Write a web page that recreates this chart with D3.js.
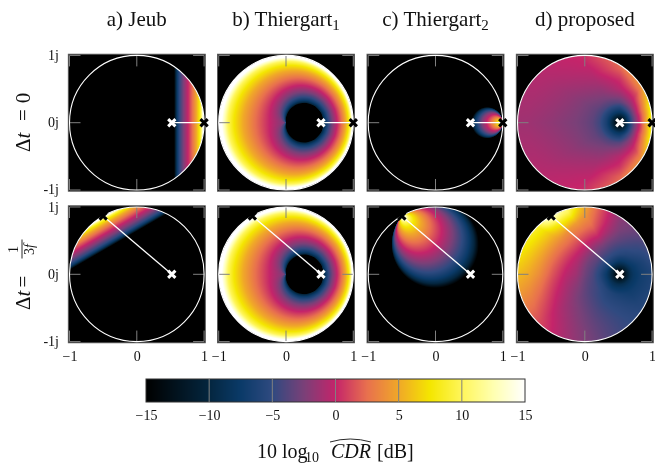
<!DOCTYPE html>
<html><head><meta charset="utf-8">
<script src="https://cdn.jsdelivr.net/npm/d3@7"></script>
<style>
html,body{margin:0;padding:0;background:#fff;}
#wrap{position:relative;width:655px;height:463px;overflow:hidden;}
canvas,svg{position:absolute;left:0;top:0;}
text{font-family:"Liberation Serif","Times New Roman",serif;fill:#111;}
</style></head><body><div id="wrap"></div>
<script>
// ---------- values ----------
const columnTitles = ["a) Jeub", "b) Thiergart", "c) Thiergart", "d) proposed"];
const columnSubs = ["", "1", "2", ""];
const axisTicks = [-1, 0, 1];
const yTickLabels = ["-1j", "0j", "1j"];
const barTicks = [-15, -10, -5, 0, 5, 10, 15];

// positions of the two markers on the complex plane
const noisePoint = [0.52, 0];
const sourcePoints = [[1, 0], [-0.5, 0.866]];

// colour bar, dB -> colour
const colorLevels = [-15, -10, -7.5, -5, -2.5, 0, 2.5, 5, 7.5, 10, 12.5, 15];
const colorStops = ["#000000", "#04263f", "#0a3a68", "#2f4a80", "#7a4078", "#c4246a",
                    "#e8704e", "#f0a828", "#f4e600", "#fff65a", "#ffffb0", "#ffffff"];

// iso-dB levels used by contour tables of columns a, b, c
const isoLevels = [-15, -10, -7.5, -5, -2.5, 0, 2.5, 5, 7.5, 10, 15];
// column a: position of each level along the source direction
const jeubOffset = [0.555, 0.58, 0.60, 0.635, 0.693, 0.76, 0.827, 0.885, 0.928, 0.956, 0.985];
// column c: diameter of each nested circle, as a share of the noise-source segment
const thiergart2Share = [0.97, 0.91, 0.85, 0.76, 0.64, 0.50, 0.36, 0.24, 0.15, 0.09, 0.03];
// column b: radius of each level (columns) at each polar angle (rows)
const thiergart1Angles = [0, 15, 30, 45, 60, 75, 90, 105, 120, 135, 150, 165, 180];
const thiergart1Radii = [
  [.555,.564,.593,.635,.693,.760,.827,.885,.928,.956,.985],
  [.537,.547,.577,.622,.681,.751,.821,.880,.925,.955,.985],
  [.487,.500,.533,.582,.648,.725,.802,.868,.917,.950,.983],
  [.407,.425,.463,.520,.595,.684,.773,.848,.905,.943,.981],
  [.300,.327,.372,.438,.526,.630,.734,.822,.888,.933,.977],
  [.175,.214,.266,.343,.446,.568,.689,.792,.869,.921,.974],
  [.031,.091,.151,.240,.360,.500,.640,.760,.849,.909,.969],
  [0,0,.036,.138,.273,.433,.592,.728,.829,.897,.965],
  [0,0,0,.043,.193,.370,.547,.697,.810,.886,.961],
  [0,0,0,0,.124,.316,.508,.671,.793,.876,.958],
  [0,0,0,0,.072,.275,.478,.651,.781,.868,.955],
  [0,0,0,0,.038,.249,.459,.639,.773,.863,.954],
  [0,0,0,0,.027,.240,.453,.635,.771,.862,.954]
];
// column d: dB in polar cells around the noise marker
const proposedRadii = [0, .05, .1, .15, .2, .3, .4, .5, .65, .8, 1, 1.2, 1.35, 1.55];
const proposedAnglesTop = [0, 30, 60, 90, 120, 150, 180];   // mirrored below the axis
const proposedTop = [
  [-20,-13,-9,-6,-3.5,.5,5.5,11,15,15,15,15,15,15],
  [-20,-13,-9.5,-6.5,-4,0,3.5,7.5,12,15,15,15,15,15],
  [-20,-13.5,-10,-7.5,-5,-2,0,1.5,4.5,7,9,9,9,9],
  [-20,-13.5,-10.5,-8,-6.5,-3.5,-1.8,-.5,.5,2,3,3,3,3],
  [-20,-13.5,-10.5,-8,-6.5,-4,-2.7,-2,-1.2,-.6,0,.3,.3,.3],
  [-20,-13.5,-10.5,-8,-6.5,-4.3,-3.3,-2.8,-2.2,-1.7,-1.2,-.8,-.6,-.6],
  [-20,-13.5,-10.5,-8,-6.5,-4.5,-3.5,-3,-2.5,-2.2,-1.8,-1.5,-1.3,-1.2]
];
const proposedAnglesBottom = [0, 30, 60, 90, 120, 130, 140, 150, 180, 210, 240, 270, 300, 330, 360];
const proposedBottom = [
  [-20,-14,-11,-9,-8,-7,-6.5,-6,-6,-6,-6,-6,-6,-6],
  [-20,-14,-11,-9,-7.8,-6.8,-6,-5,-4.5,-4.5,-4.5,-4.5,-4.5,-4.5],
  [-20,-14,-11,-9,-7.5,-6,-5,-4.5,-3.5,-3,-3,-3,-3,-3],
  [-20,-14,-11,-9,-7.5,-5.5,-4.5,-3.5,-2.5,-2,-1.5,-1.5,-1.5,-1.5],
  [-20,-14,-11,-9,-7,-5,-3.8,-2.5,0,2,4,6.5,7,7],
  [-20,-14,-11,-9,-7,-5,-3.7,-2.5,-.2,1.8,4.5,10,13,13],
  [-20,-14,-11,-9,-7,-5,-3.6,-2.5,-.3,1.6,4,9,15,15],
  [-20,-14,-11,-9,-7,-5,-3.5,-2.6,-.5,1.3,3.6,6.2,8,10.5],
  [-20,-14,-11,-9,-7.5,-5.5,-4,-3,-1.2,-.3,1.6,3.8,5,6],
  [-20,-14,-11,-9,-7.5,-5.5,-4.5,-4,-3,-2,-.9,.3,1.2,1.8],
  [-20,-14,-11,-9,-8,-6,-5.4,-4.8,-4,-3.3,-2.5,-2,-2,-2],
  [-20,-14,-11,-9,-8,-6.5,-5.8,-5.3,-4.8,-4.5,-4.3,-4.3,-4.3,-4.3],
  [-20,-14,-11,-9,-8,-7,-6.5,-6,-5.5,-5.5,-5.5,-5.5,-5.5,-5.5],
  [-20,-14,-11,-9,-8,-7,-6.5,-6,-6,-6,-6,-6,-6,-6],
  [-20,-14,-11,-9,-8,-7,-6.5,-6,-6,-6,-6,-6,-6,-6]
];

// ---------- layout ----------
const W = 655, H = 463;
const colX = [68.3, 217.5, 367, 516.3], rowY = [54.2, 205.8], frameSize = 137;
const barBox = {x0: 146, x1: 525, y0: 379, y1: 402};
const GREY = "#808080";
const tickText = d3.format("d");

const wrap = d3.select("#wrap");
const canvas = wrap.append("canvas").attr("width", W).attr("height", H).node();
const ctx = canvas.getContext("2d");
ctx.fillStyle = "#fff"; ctx.fillRect(0, 0, W, H);
const svg = wrap.append("svg").attr("width", W).attr("height", H);

const color = d3.scaleLinear().domain(colorLevels).range(colorStops)
  .interpolate(d3.interpolateRgb).clamp(true);

// ---------- table look-ups ----------
function bracket(arr, v) {
  const i = Math.max(1, Math.min(arr.length - 1, d3.bisectRight(arr, v)));
  const t = (v - arr[i - 1]) / (arr[i] - arr[i - 1]);
  return [i - 1, i, Math.max(0, Math.min(1, t))];
}
function levelAt(positions, p) {      // positions ascending with level
  let i = -1;
  for (let k = 0; k < positions.length; k++) if (positions[k] <= p) i = k;
  if (i < 0) return -20;
  if (i === positions.length - 1) return 15;
  const span = positions[i + 1] - positions[i];
  return isoLevels[i] + (span > 0 ? (p - positions[i]) / span : 0) * (isoLevels[i + 1] - isoLevels[i]);
}
const bilinear = (rows, angs, rads, a, r) => {
  const [a0, a1, ta] = bracket(angs, a), [r0, r1, tr] = bracket(rads, r);
  const lo = rows[a0][r0] * (1 - tr) + rows[a0][r1] * tr;
  const hi = rows[a1][r0] * (1 - tr) + rows[a1][r1] * tr;
  return lo * (1 - ta) + hi * ta;
};
const fields = [
  (x, y, s) => levelAt(jeubOffset, x * s[0] + y * s[1]),
  (x, y) => {
    const r = Math.hypot(x, y), a = Math.abs(Math.atan2(y, x)) * 180 / Math.PI;
    const [a0, a1, t] = bracket(thiergart1Angles, a);
    return levelAt(thiergart1Radii[a0].map((v, k) => v * (1 - t) + thiergart1Radii[a1][k] * t), r);
  },
  (x, y, s) => {
    const dx = noisePoint[0] - s[0], dy = noisePoint[1] - s[1], vx = x - s[0], vy = y - s[1];
    const dot = vx * dx + vy * dy;
    if (dot <= 0) return -20;
    const share = (vx * vx + vy * vy) / dot;
    return levelAt(thiergart2Share.map(v => -v), -share);
  },
  (x, y, s, row) => {
    const dx = x - noisePoint[0], dy = y - noisePoint[1], r = Math.hypot(dx, dy);
    if (row === 0) return bilinear(proposedTop, proposedAnglesTop, proposedRadii,
      Math.abs(Math.atan2(dy, dx)) * 180 / Math.PI, r);
    let a = Math.atan2(dy, dx) * 180 / Math.PI; if (a < 0) a += 360;
    return bilinear(proposedBottom, proposedAnglesBottom, proposedRadii, a, r);
  }
];

// ---------- panels ----------
const MARGIN = 1.018;
rowY.forEach((y0, row) => colX.forEach((x0, col) => {
  const x = d3.scaleLinear().domain([-MARGIN, MARGIN]).range([x0, x0 + frameSize]);
  const y = d3.scaleLinear().domain([-MARGIN, MARGIN]).range([y0 + frameSize, y0]);
  const source = sourcePoints[row];

  ctx.fillStyle = "#000"; ctx.fillRect(x0, y0, frameSize, frameSize);
  const L = Math.floor(x0), T = Math.floor(y0), N = frameSize + 2;
  const off = document.createElement("canvas"); off.width = off.height = N;
  const octx = off.getContext("2d"), img = octx.createImageData(N, N);
  for (let j = 0; j < N; j++) for (let i = 0; i < N; i++) {
    const px = x.invert(L + i + .5), py = y.invert(T + j + .5);
    if (Math.hypot(px, py) > 1.03) continue;
    const c = d3.rgb(color(fields[col](px, py, source, row))), o = (j * N + i) * 4;
    img.data[o] = c.r; img.data[o + 1] = c.g; img.data[o + 2] = c.b; img.data[o + 3] = 255;
  }
  octx.putImageData(img, 0, 0);
  ctx.save();
  ctx.beginPath();
  ctx.arc(x(0), y(0), x(1) - x(0), 0, 2 * Math.PI);
  ctx.clip();
  ctx.drawImage(off, L, T);
  ctx.restore();

  const g = svg.append("g");
  g.append("rect").attr("x", x0).attr("y", y0).attr("width", frameSize).attr("height", frameSize)
    .attr("fill", "none").attr("stroke", "#555").attr("stroke-width", 0.9);
  const TICK = 11;
  axisTicks.forEach(t => {
    [[x(t), y(-1), x(t), y(-1) - TICK], [x(t), y(1), x(t), y(1) + TICK],
     [x(-1), y(t), x(-1) + TICK, y(t)], [x(1), y(t), x(1) - TICK, y(t)]].forEach(s =>
      g.append("line").attr("x1", s[0]).attr("y1", s[1]).attr("x2", s[2]).attr("y2", s[3])
        .attr("stroke", GREY).attr("stroke-width", 1));
  });
  g.append("circle").attr("cx", x(0)).attr("cy", y(0)).attr("r", x(1) - x(0))
    .attr("fill", "none").attr("stroke", "#fff").attr("stroke-width", 1.1);
  g.append("line").attr("x1", x(noisePoint[0])).attr("y1", y(noisePoint[1]))
    .attr("x2", x(source[0])).attr("y2", y(source[1]))
    .attr("stroke", "#fff").attr("stroke-width", 1.3);
  const marker = d3.symbol(d3.symbolTimes, 36)();
  g.append("path").attr("d", marker)
    .attr("transform", `translate(${x(source[0])},${y(source[1])})`)
    .attr("fill", "none").attr("stroke", "#000").attr("stroke-width", 3);
  g.append("path").attr("d", marker)
    .attr("transform", `translate(${x(noisePoint[0])},${y(noisePoint[1])})`)
    .attr("fill", "none").attr("stroke", "#fff").attr("stroke-width", 3);

  if (col === 0) {
    axisTicks.forEach((t, k) => svg.append("text").attr("x", 59).attr("y", y(t) + 4.5)
      .attr("text-anchor", "end").attr("font-size", 14).text(yTickLabels[k]));
  }
  if (row === 1) {
    const ax = svg.append("g").attr("transform", `translate(0,${y0 + frameSize + 5})`)
      .call(d3.axisBottom(x).tickValues(axisTicks).tickFormat(tickText).tickSize(0).tickPadding(3));
    ax.select(".domain").remove();
    ax.selectAll("text").attr("font-size", 14).attr("fill", "#111");
    ax.attr("font-family", null);
  }
}));

// ---------- column titles ----------
columnTitles.forEach((t, i) => {
  const txt = svg.append("text").attr("x", colX[i] + frameSize / 2).attr("y", 26)
    .attr("text-anchor", "middle").attr("font-size", 21).text(t);
  if (columnSubs[i]) txt.append("tspan").attr("dy", 4).attr("font-size", 15).text(columnSubs[i]);
});

// ---------- row labels ----------
const r0 = svg.append("g").attr("transform", `translate(30,122) rotate(-90)`).attr("font-size", 21);
const dt = (g, u) => {
  const t = g.append("text").attr("x", u).attr("y", 0);
  t.append("tspan").text("Δ");
  t.append("tspan").attr("font-style", "italic").text("t");
};
dt(r0, -30);
r0.append("text").attr("x", 7).attr("text-anchor", "middle").text("=");
r0.append("text").attr("x", 24).attr("text-anchor", "middle").text("0");
const r1 = svg.append("g").attr("transform", `translate(30,274.5) rotate(-90)`).attr("font-size", 21);
dt(r1, -35.5);
r1.append("text").attr("x", -7).attr("text-anchor", "middle").text("=");
r1.append("line").attr("x1", 16).attr("x2", 35).attr("y1", -8).attr("y2", -8)
  .attr("stroke", "#111").attr("stroke-width", 0.9);
r1.append("text").attr("x", 25).attr("y", -12).attr("text-anchor", "middle").attr("font-size", 14).text("1");
const den = r1.append("text").attr("x", 25).attr("y", 4).attr("text-anchor", "middle").attr("font-size", 14);
den.append("tspan").text("3");
den.append("tspan").attr("font-style", "italic").text("f");

// ---------- colour bar ----------
const barX = d3.scaleLinear().domain([-15, 15]).range([barBox.x0, barBox.x1]);
for (let px = barBox.x0; px < barBox.x1; px++) {
  ctx.fillStyle = color(barX.invert(px + .5));
  ctx.fillRect(px, barBox.y0, 1, barBox.y1 - barBox.y0);
}
svg.append("rect").attr("x", barBox.x0).attr("y", barBox.y0)
  .attr("width", barBox.x1 - barBox.x0).attr("height", barBox.y1 - barBox.y0)
  .attr("fill", "none").attr("stroke", "#333").attr("stroke-width", 1);
barTicks.slice(1, -1).forEach(t => svg.append("line")
  .attr("x1", barX(t)).attr("x2", barX(t)).attr("y1", barBox.y0).attr("y2", barBox.y1)
  .attr("stroke", GREY).attr("stroke-width", 1));
const barAxis = svg.append("g").attr("transform", `translate(0,${barBox.y1 + 5})`)
  .call(d3.axisBottom(barX).tickValues(barTicks).tickFormat(tickText).tickSize(0).tickPadding(3));
barAxis.select(".domain").remove();
barAxis.selectAll("text").attr("font-size", 14).attr("fill", "#111");
barAxis.attr("font-family", null);

// ---------- colour bar title ----------
const base = 458;
svg.append("text").attr("x", 257).attr("y", base).attr("font-size", 20).text("10 log");
svg.append("text").attr("x", 305).attr("y", base + 4).attr("font-size", 14).text("10");
svg.append("text").attr("x", 331).attr("y", base).attr("font-size", 20)
  .attr("font-style", "italic").text("CDR");
svg.append("text").attr("x", 377).attr("y", base).attr("font-size", 20).text("[dB]");
svg.append("path").attr("d", "M330,442 Q350,436 371,442").attr("fill", "none")
  .attr("stroke", "#111").attr("stroke-width", 0.9);
</script></body></html>
